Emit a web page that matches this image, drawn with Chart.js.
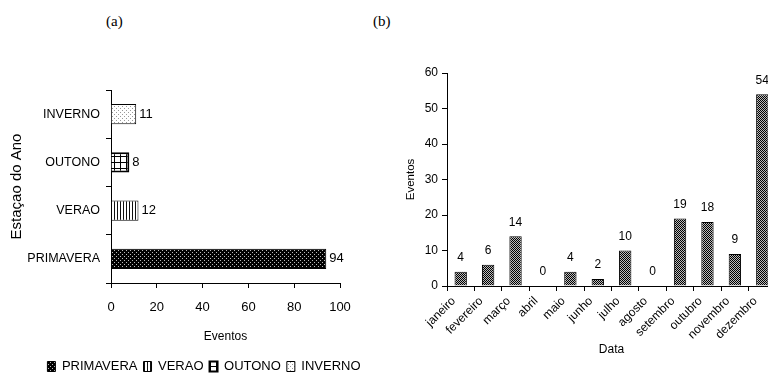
<!DOCTYPE html>
<html><head><meta charset="utf-8">
<script src="https://cdn.jsdelivr.net/npm/chart.js@4.4.1/dist/chart.umd.min.js"></script>
<style>
html,body{margin:0;padding:0;width:768px;height:373px;overflow:hidden;background:#fff}
#c1{position:absolute;left:0;top:0}
#c2{position:absolute;left:370px;top:0}
.lab{position:absolute;top:13px;font-family:'Liberation Serif','Times New Roman',serif;font-size:15px;color:#000}
</style></head><body>
<div class="lab" style="left:106px">(a)</div>
<div class="lab" style="left:373px">(b)</div>
<canvas id="c1" width="410" height="383"></canvas>
<canvas id="c2" width="420" height="373"></canvas>
<script>
// ---- data ----
const seasons = ['PRIMAVERA', 'VERAO', 'OUTONO', 'INVERNO'];
const seasonEvents = [94, 12, 8, 11];
const seasonTicks = [0, 20, 40, 60, 80, 100];

const months = ['janeiro', 'fevereiro', 'março', 'abril', 'maio', 'junho', 'julho', 'agosto', 'setembro', 'outubro', 'novembro', 'dezembro'];
const monthEvents = [4, 6, 14, 0, 4, 2, 10, 0, 19, 18, 9, 54];
const monthTicks = [0, 10, 20, 30, 40, 50, 60];

// ---- styles ----
const SANS = "'Liberation Sans',Arial,sans-serif";

function pat(w, h, bg, fg, pts) {
  const c = document.createElement('canvas'); c.width = w; c.height = h;
  const x = c.getContext('2d');
  x.fillStyle = bg; x.fillRect(0, 0, w, h);
  x.fillStyle = fg;
  pts.forEach(p => x.fillRect(p[0], p[1], p[2] || 1, p[3] || 1));
  return x.createPattern(c, 'repeat');
}
const seasonFills = [
  pat(4, 4, '#000', '#bbb', [[0, 0], [2, 2]]),
  pat(3, 1, '#fff', '#111', [[0, 0]]),
  pat(6, 6, '#fff', '#000', [[0, 0, 6, 1], [0, 0, 1, 6]]),
  pat(4, 4, '#fff', '#999', [[0, 0], [2, 2]])
];
const monthFill = pat(2, 2, '#bbb', '#000', [[0, 0], [1, 1]]);

const valueLabels = {
  id: 'valueLabels',
  afterDatasetsDraw(chart, args, opts) {
    const ctx = chart.ctx;
    ctx.save();
    ctx.font = opts.font;
    ctx.fillStyle = '#000';
    chart.data.datasets.forEach((ds, i) => {
      const meta = chart.getDatasetMeta(i);
      meta.data.forEach((el, j) => {
        const v = ds.data[j];
        if (v == null) return;
        if (opts.horizontal) {
          ctx.textAlign = 'left'; ctx.textBaseline = 'middle';
          ctx.fillText(String(v), el.x + opts.offset, el.y);
        } else {
          ctx.textAlign = 'center'; ctx.textBaseline = 'middle';
          ctx.fillText(String(v), el.x, el.y - opts.offset);
        }
      });
    });
    ctx.restore();
  }
};
Chart.register(valueLabels);

new Chart(document.getElementById('c1'), {
  type: 'bar',
  data: {
    labels: seasons,
    datasets: seasons.map((s, i) => ({
      label: s,
      data: seasons.map((_, j) => j === i ? seasonEvents[j] : null),
      backgroundColor: seasonFills[i],
      borderColor: '#000',
      borderWidth: i === 2 ? 2 : 1,
      categoryPercentage: 1,
      barPercentage: 0.42
    }))
  },
  options: {
    indexAxis: 'y', responsive: false, animation: false, devicePixelRatio: 1,
    layout: { padding: { top: 90, left: 0, right: 2, bottom: 0 } },
    plugins: {
      legend: { position: 'bottom', labels: { font: { family: SANS, size: 13 }, color: '#000', boxWidth: 8, boxHeight: 10, padding: 6 } },
      tooltip: { enabled: false },
      valueLabels: { font: '13px ' + SANS, horizontal: true, offset: 3 }
    },
    scales: {
      x: {
        stacked: true, min: seasonTicks[0], max: seasonTicks[seasonTicks.length - 1],
        ticks: { stepSize: seasonTicks[1] - seasonTicks[0], color: '#000', font: { family: SANS, size: 13 }, padding: 12 },
        grid: { drawOnChartArea: false, tickLength: 5, color: '#000' },
        border: { color: '#000', width: 1 },
        title: { display: true, text: 'Eventos', color: '#000', font: { family: SANS, size: 12 }, padding: { top: 0, bottom: 10 } },
        afterFit(s) { s.height = 71; }
      },
      y: {
        stacked: true, reverse: true,
        ticks: { color: '#000', font: { family: SANS, size: 12.5 }, padding: 6 },
        grid: { drawOnChartArea: false, offset: true, tickLength: 5, color: '#000' },
        border: { color: '#000' },
        title: { display: true, text: 'Estaçao do Ano', color: '#000', font: { family: SANS, size: 15 }, padding: { top: 8, bottom: 0 } },
        afterFit(s) { s.width = 111; }
      },
      y2: {
        position: 'right', display: true,
        grid: { display: false }, border: { display: false }, ticks: { display: false },
        afterFit(s) { s.width = 68; }
      }
    }
  }
});

new Chart(document.getElementById('c2'), {
  type: 'bar',
  data: {
    labels: months,
    datasets: [{
      label: 'Eventos', data: monthEvents, backgroundColor: monthFill,
      borderColor: '#000', borderWidth: 1, categoryPercentage: 1, barPercentage: 0.45
    }]
  },
  options: {
    responsive: false, animation: false, devicePixelRatio: 1,
    layout: { padding: { top: 73, left: 34, right: 14, bottom: 10 } },
    plugins: {
      legend: { display: false }, tooltip: { enabled: false },
      valueLabels: { font: '12px ' + SANS, horizontal: false, offset: 14 }
    },
    scales: {
      x: {
        ticks: { minRotation: 45, maxRotation: 45, autoSkip: false, color: '#000', font: { family: SANS, size: 12 }, padding: 3, labelOffset: -7 },
        grid: { drawOnChartArea: false, offset: true, tickLength: 5, color: '#000' },
        border: { color: '#000' },
        title: { display: true, text: 'Data', color: '#000', font: { family: SANS, size: 12 }, padding: { top: 0, bottom: 6 } },
        afterFit(s) { s.height = 77; }
      },
      y: {
        min: monthTicks[0], max: monthTicks[monthTicks.length - 1],
        ticks: { stepSize: monthTicks[1] - monthTicks[0], color: '#000', font: { family: SANS, size: 12 }, padding: 4 },
        grid: { drawOnChartArea: false, tickLength: 5, color: '#000' },
        border: { color: '#000' },
        title: { display: true, text: 'Eventos', color: '#000', font: { family: SANS, size: 11.5 }, padding: { top: 0, bottom: 0 } },
        afterFit(s) { s.width = 43; }
      }
    }
  }
});
</script>
</body></html>
